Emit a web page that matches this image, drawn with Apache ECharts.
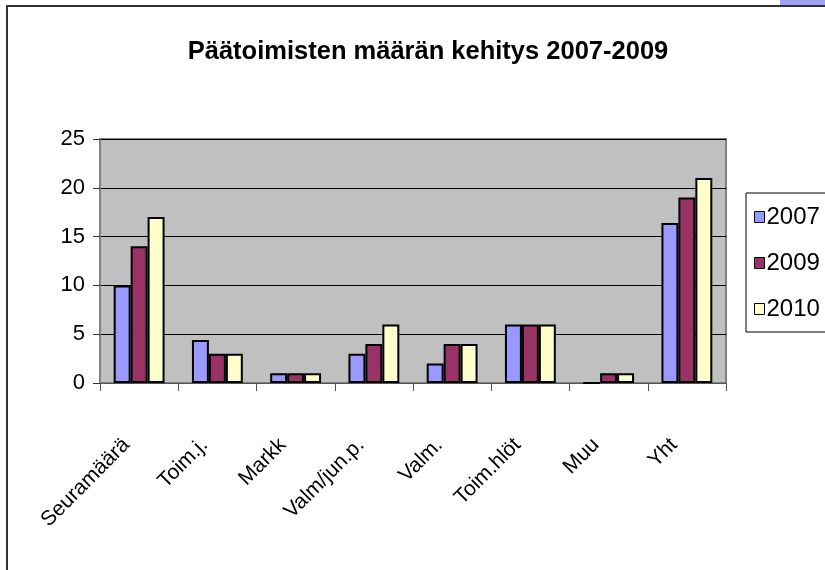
<!DOCTYPE html>
<html>
<head>
<meta charset="utf-8">
<script src="https://cdn.jsdelivr.net/npm/echarts@6/dist/echarts.min.js"></script>
<style>html,body{margin:0;padding:0;background:#fff}#c{width:825px;height:570px}</style>
</head>
<body>
<div id="c"></div>
<script>
const categories = ['Seuramäärä', 'Toim.j.', 'Markk', 'Valm/jun.p.', 'Valm.', 'Toim.hlöt', 'Muu', 'Yht'];
const s2007 = [10, 4.4, 1, 3, 2, 6, 0, 16.4];
const s2009 = [14, 3, 1, 4, 4, 6, 1, 19];
const s2010 = [17, 3, 1, 6, 4, 6, 1, 21];
const seriesNames = ['2007', '2009', '2010'];
const yTicks = { min: 0, max: 25, interval: 5 };

const chart = echarts.init(document.getElementById('c'), null, { renderer: 'canvas' });
const font = 'Liberation Sans, Arial, sans-serif';
const colors = ['#9999FF', '#993366', '#FFFFCC'];
const data = [s2007, s2009, s2010];

chart.setOption({
  animation: false,
  backgroundColor: '#ffffff',
  title: {
    text: 'Päätoimisten määrän kehitys 2007-2009',
    left: 423, top: 34, textAlign: 'center',
    textStyle: { fontFamily: font, fontSize: 25.5, fontWeight: 'bold', color: '#000' }
  },
  graphic: [
    { type: 'rect', shape: { x: 780, y: 0, width: 45, height: 5 }, style: { fill: '#9fa3f2' }, silent: true },
    { type: 'polyline', shape: { points: [[7, 570], [7, 6], [825, 6]] }, style: { stroke: '#333', lineWidth: 2, fill: null }, silent: true }
  ],
  legend: {
    orient: 'vertical',
    left: 746, top: 193,
    data: seriesNames,
    icon: 'rect',
    itemWidth: 10, itemHeight: 11,
    itemGap: 22,
    padding: [12, 30, 11, 8],
    borderColor: '#000', borderWidth: 1,
    itemStyle: { borderColor: '#000', borderWidth: 1 },
    textStyle: { fontFamily: font, fontSize: 24, color: '#000', lineHeight: 24, padding: [0, 0, 0, -3] }
  },
  grid: {
    left: 100, right: 99, top: 139, bottom: 187,
    show: true, backgroundColor: '#C0C0C0', borderColor: '#808080', borderWidth: 2
  },
  xAxis: {
    type: 'category',
    data: categories,
    axisLine: { lineStyle: { color: '#555', width: 1 } },
    axisTick: { show: true, length: 8, alignWithLabel: false, lineStyle: { color: '#555' } },
    axisLabel: {
      rotate: 45, margin: 46, interval: 0,
      fontFamily: font, fontSize: 21, color: '#000',
      padding: [0, 18, 0, 0]
    }
  },
  yAxis: {
    type: 'value',
    min: yTicks.min, max: yTicks.max, interval: yTicks.interval,
    axisLine: { show: true, lineStyle: { color: '#808080', width: 1 } },
    axisTick: { show: true, length: 7, lineStyle: { color: '#333' } },
    axisLabel: { fontFamily: font, fontSize: 22, color: '#000', margin: 15 },
    splitLine: { show: true, lineStyle: { color: '#000', width: 1 } }
  },
  series: seriesNames.map((n, i) => ({
    name: n,
    type: 'bar',
    data: data[i],
    barGap: '0%',
    barCategoryGap: '35%',
    itemStyle: { color: colors[i], borderColor: '#000', borderWidth: 2 }
  }))
});
</script>
</body>
</html>
